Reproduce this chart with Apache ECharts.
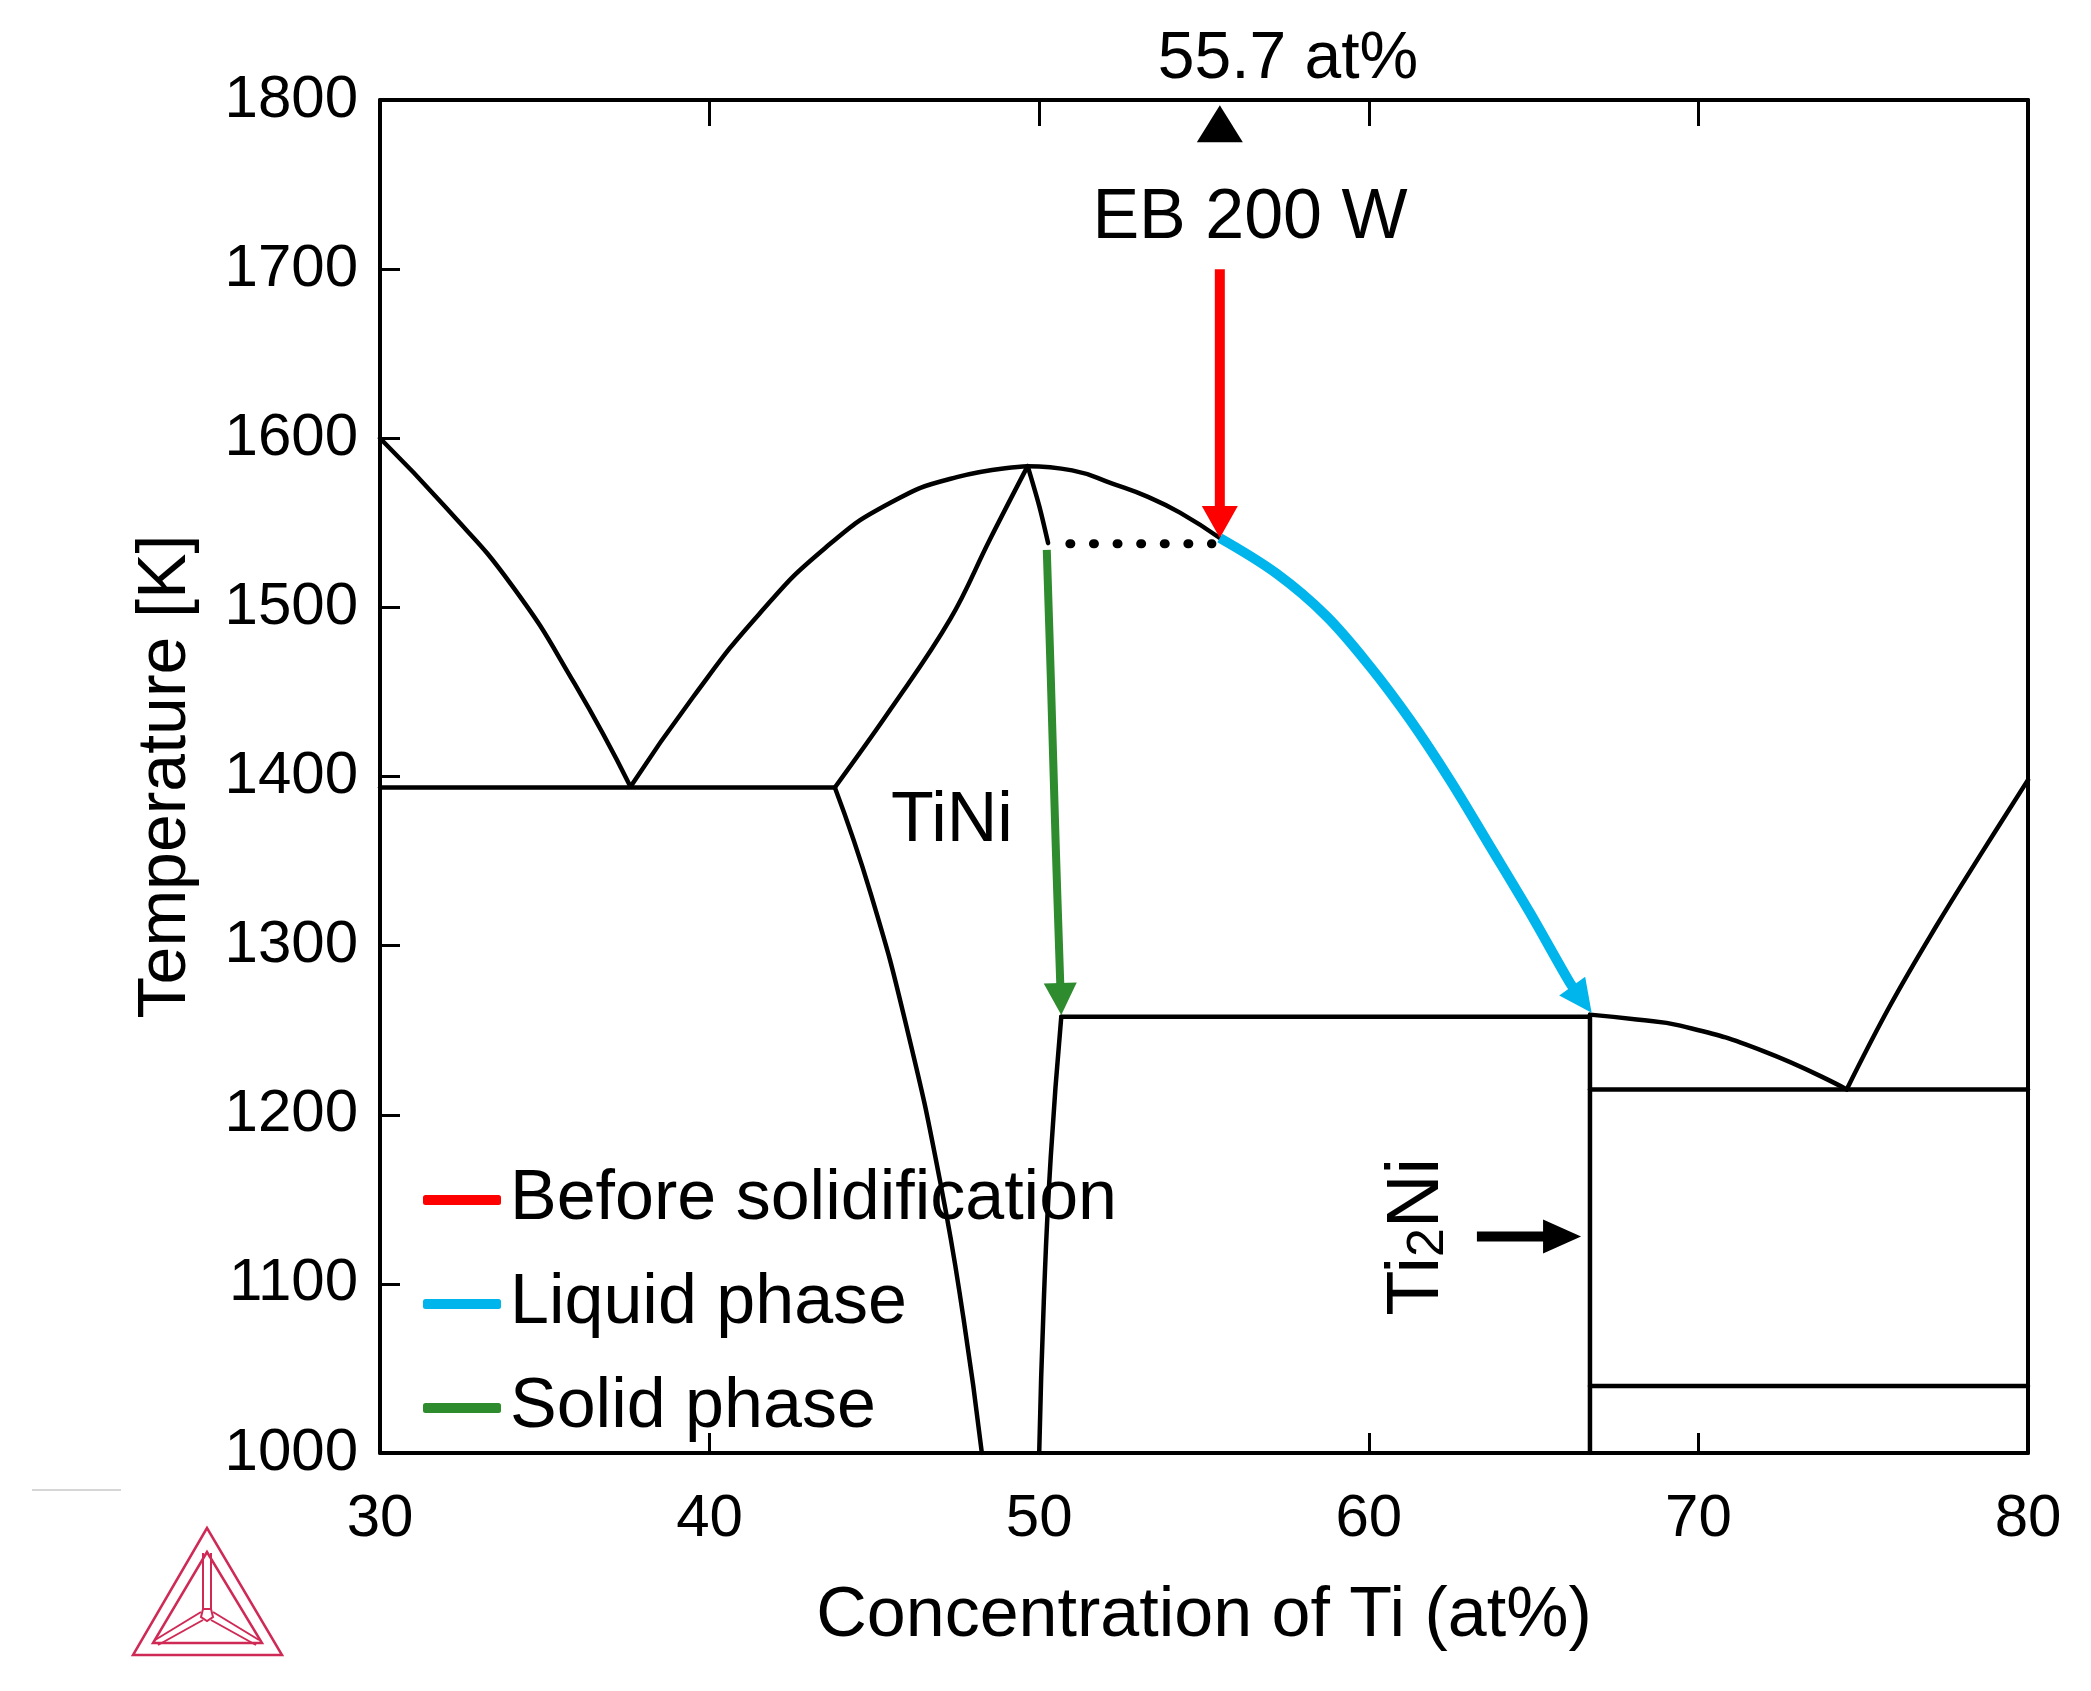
<!DOCTYPE html>
<html lang="en">
<head>
    <meta charset="UTF-8">
    <title>Ti-Ni phase diagram</title>
    <script src="https://cdn.jsdelivr.net/npm/echarts@6/dist/echarts.min.js"></script>
    <style>html, body { margin: 0; padding: 0; background: #fff; }</style>
</head>
<body>
<div id="main" style="width: 2091px;height:1691px;"></div>
<script type="text/javascript">

    // axis ticks
    var xTicks = [30, 40, 50, 60, 70, 80];
    var yTicks = [1000, 1100, 1200, 1300, 1400, 1500, 1600, 1700, 1800];

    // phase boundaries, [at% Ti, T in K]
    var liquidusNiSide = [[30, 1600], [32, 1559], [34, 1513], [35.9, 1455], [37.6, 1394]];
    var liquidusTiNiLeft = [[37.6, 1394], [39.5, 1447], [41.5, 1496], [43.5, 1535], [45.5, 1562], [47.5, 1577], [49.65, 1583.5]];
    var liquidusTiNiRight = [[49.65, 1583.5], [51, 1581], [52.24, 1573], [53.3, 1565.3], [54.27, 1556], [55.48, 1541]];
    var solidusTiNiLeft = [[43.8, 1393.5], [45.5, 1440], [47.3, 1493], [48.5, 1540], [49.65, 1583.5]];
    var solidusTiNiRight = [[49.65, 1583.5], [50.0, 1560], [50.27, 1538]];
    var solvusTiNiLeft = [[43.8, 1393.5], [44.9, 1330], [46.0, 1250], [47.0, 1160], [47.7, 1080], [48.26, 1000]];
    var solvusTiNiRight = [[50.67, 1258], [50.35, 1175], [50.14, 1090], [50.0, 1000]];
    var eutecticNiSide = [[30, 1393.5], [43.8, 1393.5]];
    var peritectic = [[50.67, 1258], [66.71, 1258]];
    var ti2NiLine = [[66.71, 1259], [66.71, 1000]];
    var liquidusTi2Ni = [[66.71, 1259.2], [68.13, 1256.3], [69.45, 1252.7], [71.97, 1237.6], [74.5, 1215]];
    var eutecticTiSide = [[66.71, 1215], [80, 1215]];
    var liquidusBeta = [[74.5, 1215], [75.8, 1264], [77.2, 1311], [78.6, 1355], [80, 1398]];
    var lowerLine = [[66.71, 1039.6], [80, 1039.6]];
    var dottedLevel = [[50.93, 1537.6], [55.24, 1537.6]];

    // annotated paths
    var beforeSolid = [[55.48, 1700], [55.48, 1541]];
    var liquidPath = [[55.48, 1541], [57.2, 1520], [58.72, 1494.7], [60.04, 1465], [61.25, 1433.6], [62.46, 1398], [63.68, 1358.7], [64.89, 1319.4], [66.1, 1278], [66.76, 1260.3]];
    var solidPath = [[50.23, 1534], [50.35, 1460], [50.5, 1360], [50.67, 1259]];
    var ti2NiPointer = [[63.28, 1128], [66.44, 1128]];
    var compMarker = [[55.48, 1786]];

    var font = 'Liberation Sans, Arial, sans-serif';

    function blackLine(data, smooth) {
        return {
            type: 'line', data: data, smooth: smooth || false, showSymbol: false, silent: true,
            lineStyle: {color: '#000', width: 4.5, cap: 'round', join: 'round'}, z: 3
        };
    }

    function arrowSeries(name, pts, color, width, headLen, headW) {
        return {
            name: name, type: 'custom', silent: true, z: 6,
            itemStyle: {color: color},
            data: [pts[0]],
            renderItem: function (params, api) {
                var p = pts.map(function (d) { return api.coord(d); });
                var tip = p[p.length - 1], prev = p[p.length - 2];
                var dx = tip[0] - prev[0], dy = tip[1] - prev[1];
                var len = Math.sqrt(dx * dx + dy * dy);
                var ux = dx / len, uy = dy / len;
                var base = [tip[0] - ux * headLen, tip[1] - uy * headLen];
                var shaftEnd = [tip[0] - ux * headLen * 0.8, tip[1] - uy * headLen * 0.8];
                var shaft = p.slice(0, -1).concat([shaftEnd]);
                var hw = headW / 2;
                return {
                    type: 'group',
                    children: [
                        {type: 'polyline', shape: {points: shaft, smooth: 0.35},
                            style: {stroke: color, lineWidth: width, fill: 'none', lineCap: 'butt'}},
                        {type: 'polygon', shape: {points: [tip,
                                [base[0] - uy * hw, base[1] + ux * hw],
                                [base[0] + uy * hw, base[1] - ux * hw]]},
                            style: {fill: color}}
                    ]
                };
            }
        };
    }

    var myChart = echarts.init(document.getElementById('main'));

    var option = {
        animation: false,
        backgroundColor: '#fff',
        textStyle: {fontFamily: font, color: '#000'},
        grid: {left: 380, right: 63, top: 100, bottom: 238},
        legend: {
            data: ['Before solidification', 'Liquid phase', 'Solid phase'],
            orient: 'vertical', left: 418, top: 1160,
            icon: 'roundRect', itemWidth: 78, itemHeight: 10, itemGap: 34,
            selectedMode: false,
            textStyle: {fontSize: 70, color: '#000', fontFamily: font, padding: [0, 0, 0, 4]}
        },
        xAxis: [{
            type: 'value', min: xTicks[0], max: xTicks[xTicks.length - 1], interval: 10,
            position: 'bottom',
            name: 'Concentration of Ti (at%)', nameLocation: 'middle', nameGap: 129,
            nameTextStyle: {fontSize: 70, color: '#000', fontFamily: font},
            axisLine: {lineStyle: {color: '#000', width: 4}},
            axisTick: {inside: true, length: 20, lineStyle: {color: '#000', width: 3}},
            axisLabel: {fontSize: 60, color: '#000', margin: 36, fontFamily: font},
            splitLine: {show: false}
        }, {
            type: 'value', min: xTicks[0], max: xTicks[xTicks.length - 1], interval: 10,
            position: 'top',
            axisLine: {lineStyle: {color: '#000', width: 4}},
            axisTick: {inside: true, length: 26, lineStyle: {color: '#000', width: 3}},
            axisLabel: {show: false},
            splitLine: {show: false}
        }],
        yAxis: [{
            type: 'value', min: yTicks[0], max: yTicks[yTicks.length - 1], interval: 100,
            position: 'left',
            name: 'Temperature [K]', nameLocation: 'middle', nameGap: 180,
            nameTextStyle: {fontSize: 68, color: '#000', fontFamily: font},
            axisLine: {lineStyle: {color: '#000', width: 4}},
            axisTick: {inside: true, length: 20, lineStyle: {color: '#000', width: 3}},
            axisLabel: {fontSize: 60, color: '#000', margin: 22, fontFamily: font,
                formatter: function (v) { return String(v); }},
            splitLine: {show: false}
        }, {
            type: 'value', min: yTicks[0], max: yTicks[yTicks.length - 1], interval: 100,
            position: 'right',
            axisLine: {show: true, lineStyle: {color: '#000', width: 4}},
            axisTick: {show: false}, axisLabel: {show: false}, splitLine: {show: false}
        }],
        series: [
            blackLine(liquidusNiSide, 0.5),
            blackLine(liquidusTiNiLeft, 0.5),
            blackLine(liquidusTiNiRight, 0.5),
            blackLine(solidusTiNiLeft, 0.4),
            blackLine(solidusTiNiRight, 0.3),
            blackLine(solvusTiNiLeft, 0.5),
            blackLine(solvusTiNiRight, 0.5),
            blackLine(eutecticNiSide),
            blackLine(peritectic),
            blackLine(ti2NiLine),
            blackLine(liquidusTi2Ni, 0.5),
            blackLine(eutecticTiSide),
            blackLine(liquidusBeta, 0.4),
            blackLine(lowerLine),
            {
                type: 'line', data: dottedLevel, showSymbol: false, silent: true,
                lineStyle: {color: '#000', width: 9, type: [1, 22.6], cap: 'round'}, z: 3
            },
            {
                type: 'scatter', data: compMarker, symbol: 'triangle', symbolSize: [46, 37],
                itemStyle: {color: '#000', opacity: 1}, silent: true, z: 7
            },
            arrowSeries('Before solidification', beforeSolid, '#ff0000', 10, 32, 36),
            arrowSeries('Liquid phase', liquidPath, '#00b4ec', 10, 33, 32),
            arrowSeries('Solid phase', solidPath, '#2e8b2e', 8, 32, 33),
            arrowSeries('pointer', ti2NiPointer, '#000', 10, 38, 34)
        ],
        graphic: [
            {type: 'text', x: 1288, y: 60,
                style: {text: '55.7 at%', fontSize: 66, fontFamily: font, fill: '#000', align: 'center', verticalAlign: 'middle'}},
            {type: 'text', x: 1250, y: 219,
                style: {text: 'EB 200 W', fontSize: 70, fontFamily: font, fill: '#000', align: 'center', verticalAlign: 'middle'}},
            {type: 'text', x: 952, y: 822,
                style: {text: 'TiNi', fontSize: 70, fontFamily: font, fill: '#000', align: 'center', verticalAlign: 'middle'}},
            {type: 'text', x: 1418, y: 1237, rotation: Math.PI / 2,
                style: {
                    text: '{m|Ti}{s|2}{m|Ni}', align: 'center', verticalAlign: 'middle', fill: '#000',
                    rich: {
                        m: {fontSize: 74, lineHeight: 74, fontFamily: font, fill: '#000'},
                        s: {fontSize: 52, lineHeight: 22, verticalAlign: 'bottom', fontFamily: font, fill: '#000'}
                    }
                }},
            {type: 'line', shape: {x1: 32, y1: 1490, x2: 121, y2: 1490}, style: {stroke: '#d6d6d6', lineWidth: 2}},
            {
                type: 'group', children: [
                    {type: 'polygon', shape: {points: [[207, 1528], [133, 1655], [282, 1655]]},
                        style: {fill: 'none', stroke: '#cf2a55', lineWidth: 2.5}},
                    {type: 'polygon', shape: {points: [[207, 1552], [153, 1643], [262, 1643]]},
                        style: {fill: 'none', stroke: '#cf2a55', lineWidth: 2.5}},
                    {type: 'line', shape: {x1: 203, y1: 1553, x2: 203, y2: 1609}, style: {stroke: '#cf2a55', lineWidth: 2}},
                    {type: 'line', shape: {x1: 211, y1: 1553, x2: 211, y2: 1609}, style: {stroke: '#cf2a55', lineWidth: 2}},
                    {type: 'polygon', shape: {points: [[203, 1609], [211, 1609], [213, 1617], [207, 1621], [201, 1617]]},
                        style: {fill: 'none', stroke: '#cf2a55', lineWidth: 2}},
                    {type: 'line', shape: {x1: 155, y1: 1640, x2: 201, y2: 1612}, style: {stroke: '#cf2a55', lineWidth: 2}},
                    {type: 'line', shape: {x1: 158, y1: 1645, x2: 203, y2: 1620}, style: {stroke: '#cf2a55', lineWidth: 2}},
                    {type: 'line', shape: {x1: 259, y1: 1640, x2: 213, y2: 1612}, style: {stroke: '#cf2a55', lineWidth: 2}},
                    {type: 'line', shape: {x1: 256, y1: 1645, x2: 211, y2: 1620}, style: {stroke: '#cf2a55', lineWidth: 2}}
                ]
            }
        ]
    };

    myChart.setOption(option);

</script>
</body>
</html>
